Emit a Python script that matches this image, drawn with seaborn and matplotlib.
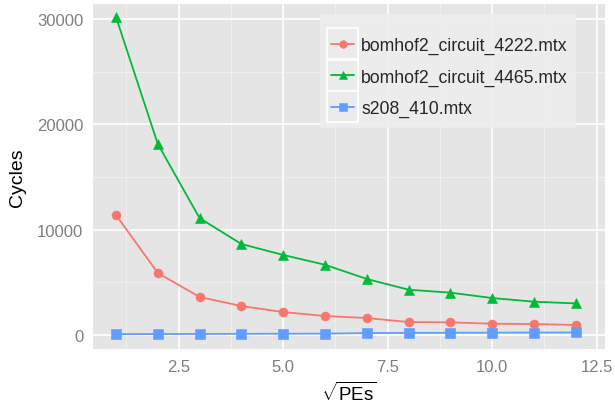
import matplotlib
matplotlib.use("Agg")
import matplotlib.pyplot as plt
import matplotlib.patches as mpatches
from matplotlib.legend_handler import HandlerLine2D
import seaborn as sns
import pandas as pd
import numpy as np

x_vals = [1, 2, 3, 4, 5, 6, 7, 8, 9, 10, 11, 12]
series_names = ["bomhof2_circuit_4222.mtx", "bomhof2_circuit_4465.mtx", "s208_410.mtx"]
cycles_4222 = [11400, 5890, 3610, 2750, 2180, 1800, 1610, 1230, 1200, 1070, 1040, 950]
cycles_4465 = [30200, 18140, 11100, 8640, 7600, 6670, 5320, 4300, 4020, 3510, 3160, 3000]
cycles_s208 = [80, 90, 100, 110, 120, 130, 180, 200, 210, 220, 230, 240]
colors = ["#F8766D", "#00BA38", "#619CFF"]
markers = ["o", "^", "s"]

rows = []
for name, vals in zip(series_names, [cycles_4222, cycles_4465, cycles_s208]):
    for xv, yv in zip(x_vals, vals):
        rows.append({"x": xv, "Cycles": yv, "file": name})
df = pd.DataFrame(rows)

sns.set_theme(style="darkgrid")
plt.rcParams["font.family"] = ["Liberation Sans", "DejaVu Sans"]
plt.rcParams["mathtext.fontset"] = "custom"
plt.rcParams["mathtext.rm"] = "Liberation Sans"


class BoxedHandler(HandlerLine2D):
    def create_artists(self, legend, orig_handle, xdescent, ydescent,
                       width, height, fontsize, trans):
        arts = super().create_artists(legend, orig_handle, xdescent, ydescent,
                                      width, height, fontsize, trans)
        box = 22.3  # points
        cx = -xdescent + width / 2
        cy = -ydescent + height / 2
        rect = mpatches.Rectangle((cx - box / 2, cy - box / 2), box, box,
                                  facecolor="#EBEBEB", edgecolor="white",
                                  linewidth=1.2, transform=trans)
        for a in arts:
            if hasattr(a, "set_markersize") and a.get_marker() not in (None, "None", ""):
                a.set_markersize(5.5)
                a.set_markeredgecolor(a.get_color())
        return [rect] + arts


fig = plt.figure(figsize=(6.15, 4.1), dpi=100)
ax = fig.add_axes([93/615, 1-350/410, (605-93)/615, (350-5)/410])
ax.set_facecolor("#E5E5E5")

sns.lineplot(data=df, x="x", y="Cycles", hue="file", style="file",
             palette=dict(zip(series_names, colors)),
             markers=dict(zip(series_names, markers)), dashes=False,
             markersize=6.5, linewidth=1.3, markeredgewidth=0.4, ax=ax)
for ln in ax.lines:
    ln.set_markeredgecolor(ln.get_color())

ax.set_xlim(0.45, 12.7)
ax.set_ylim(-1330, 31430)
ax.set_xticks([2.5, 5.0, 7.5, 10.0, 12.5])
ax.set_xticklabels(["2.5", "5.0", "7.5", "10.0", "12.5"])
ax.set_yticks([0, 10000, 20000, 30000])
ax.set_yticklabels(["0", "10000", "20000", "30000"])
ax.set_xticks([1.25, 3.75, 6.25, 8.75, 11.25], minor=True)
ax.set_yticks([5000, 15000, 25000], minor=True)
ax.grid(which="major", color="white", linewidth=1.2)
ax.grid(which="minor", color="#F2F2F2", linewidth=0.6)
ax.set_axisbelow(True)
for s in ax.spines.values():
    s.set_visible(False)
ax.tick_params(axis="both", which="major", length=4, width=1, color="#7F7F7F",
               labelcolor="#7F7F7F", labelsize=12, pad=3)
ax.tick_params(axis="both", which="minor", length=0)

ax.set_xlabel(r"$\sqrt{\mathrm{PEs}}$", fontsize=13.5, color="black", labelpad=5)
ax.set_ylabel("Cycles", fontsize=14, color="black", labelpad=8)

# legend background panel
bg = mpatches.Rectangle((0.4434, 0.6406), 0.5, 0.3304, transform=ax.transAxes,
                        facecolor="#EDEDED", edgecolor="none", alpha=0.9, zorder=4.9)
ax.add_patch(bg)

handles, labels = ax.get_legend_handles_labels()
leg = ax.legend(handles, labels, loc="upper left", bbox_to_anchor=(0.465, 0.904),
                frameon=False, fontsize=12.7, handlelength=1.3, borderpad=0,
                labelspacing=0.8, handletextpad=0.42, borderaxespad=0,
                handler_map={h: BoxedHandler() for h in handles})

fig.savefig("out.png", dpi=100)
